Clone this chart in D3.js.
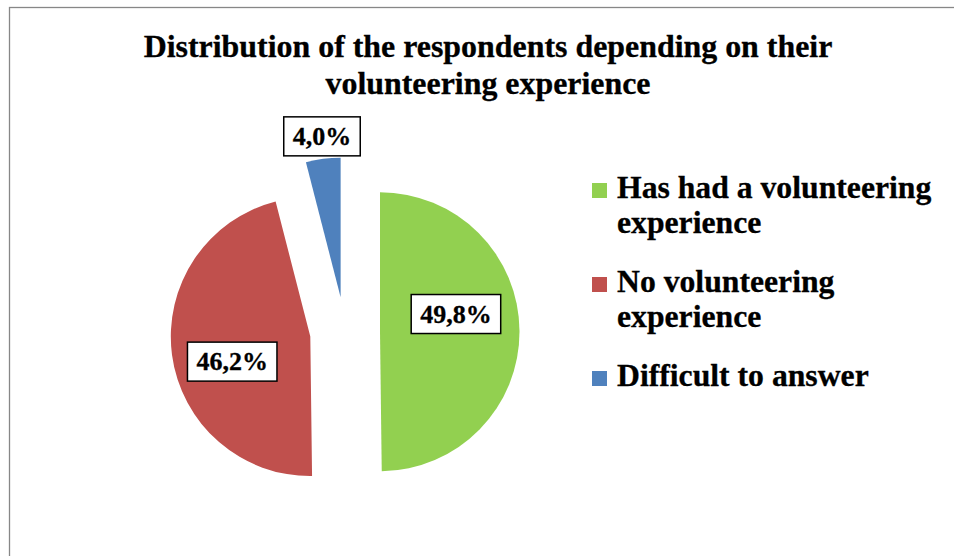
<!DOCTYPE html>
<html>
<head>
<meta charset="utf-8">
<script src="https://cdn.jsdelivr.net/npm/d3@7"></script>
<style>
  html, body { margin: 0; padding: 0; background: #ffffff; }
  svg { display: block; }
  text { font-family: "Liberation Serif", "Times New Roman", serif; font-weight: bold; fill: #000; stroke: #000; stroke-width: 0.3px; }
</style>
</head>
<body>
<svg id="chart" width="954" height="556"></svg>
<script>
// Survey answers and their shares, in percent
const categories = ["Has had a volunteering experience", "No volunteering experience", "Difficult to answer"];
const shares = [49.8, 46.2, 4.0];
const valueLabels = ["49,8%", "46,2%", "4,0%"];
const legendLines = [["Has had a volunteering", "experience"], ["No volunteering", "experience"], ["Difficult to answer"]];
const titleLines = ["Distribution of the respondents depending on their", "volunteering experience"];
const colors = ["#92D050", "#C0504D", "#4F81BD"];

const W = 954, H = 556;
const svg = d3.select("#chart");

// Chart-area frame (runs off the right and bottom edges)
svg.append("rect")
  .attr("x", 9.5).attr("y", 7.5)
  .attr("width", W + 20).attr("height", H + 20)
  .attr("fill", "none").attr("stroke", "#878787").attr("stroke-width", 1.3);

// Title
svg.append("g").selectAll("text")
  .data(titleLines).join("text")
  .attr("x", 488)
  .attr("y", (d, i) => 57 + i * 37)
  .attr("text-anchor", "middle")
  .style("font-size", "31.9px")
  .text(d => d);

// Exploded pie
const cx = 345, cy = 332, radius = 139.5, explode = 35;
const pie = d3.pie().sort(null).startAngle(0).endAngle(2 * Math.PI);
const arcs = pie(shares);
const arc = d3.arc().innerRadius(0).outerRadius(radius);

const slices = svg.append("g").attr("transform", `translate(${cx},${cy})`);
const sliceG = slices.selectAll("g.slice")
  .data(arcs).join("g")
  .attr("class", "slice")
  .attr("transform", d => {
    const a = (d.startAngle + d.endAngle) / 2;
    return `translate(${Math.sin(a) * explode},${-Math.cos(a) * explode})`;
  });

sliceG.append("path")
  .attr("d", arc)
  .attr("fill", (d, i) => colors[i]);

// Data labels: boxed percentages, placed along a slightly rotated ray
const labelAngleNudge = [-12.8, -10.2, 0.6];   // degrees
const labelRadius = [78, 82, 162];
const labelFont = 26;
sliceG.each(function (d, i) {
  const a = (d.startAngle + d.endAngle) / 2 + labelAngleNudge[i] * Math.PI / 180;
  const lx = Math.sin(a) * labelRadius[i];
  const ly = -Math.cos(a) * labelRadius[i];
  const g = d3.select(this).append("g").attr("transform", `translate(${lx},${ly})`);
  const t = g.append("text")
    .attr("text-anchor", "middle")
    .attr("y", labelFont * 0.34)
    .style("font-size", labelFont + "px")
    .text(valueLabels[i]);
  const tw = t.node().getComputedTextLength();
  g.insert("rect", "text")
    .attr("x", -tw / 2 - 9).attr("y", -19.5)
    .attr("width", tw + 18).attr("height", 39)
    .attr("fill", "#fff").attr("stroke", "#000").attr("stroke-width", 1.5);
});

// Legend
const legendX = 592, legendFont = 31.7;
const legendBaselines = [198, 292, 386];
const legend = svg.append("g");
categories.forEach((c, i) => {
  const y0 = legendBaselines[i];
  legend.append("rect")
    .attr("x", legendX).attr("y", y0 - 15)
    .attr("width", 15).attr("height", 15)
    .attr("fill", colors[i]);
  legend.append("text")
    .attr("x", legendX + 25)
    .attr("y", y0)
    .style("font-size", legendFont + "px")
    .selectAll("tspan")
    .data(legendLines[i]).join("tspan")
    .attr("x", legendX + 25)
    .attr("dy", (d, j) => j === 0 ? 0 : 35)
    .text(d => d);
});
</script>
</body>
</html>
